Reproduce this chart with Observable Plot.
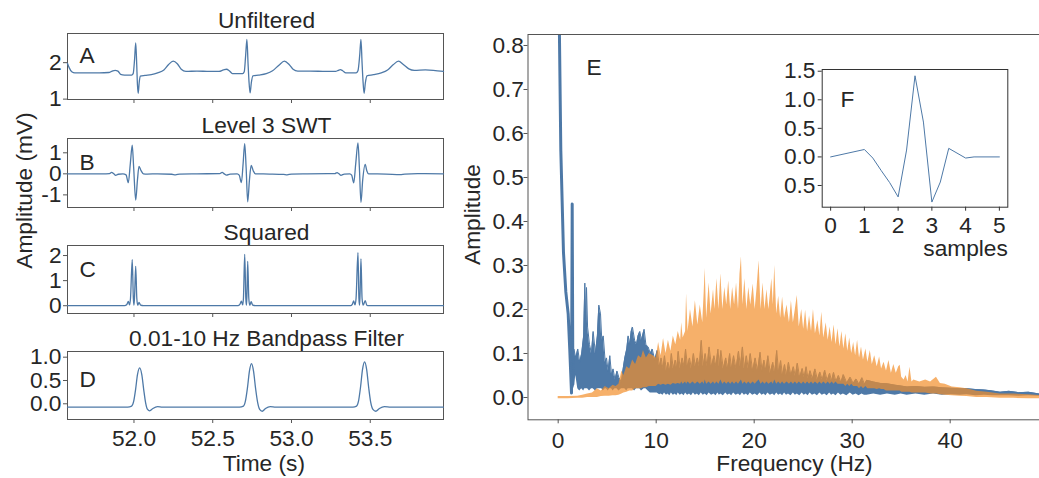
<!DOCTYPE html>
<html><head><meta charset="utf-8">
<script src="https://cdn.jsdelivr.net/npm/d3@7"></script>
<script src="https://cdn.jsdelivr.net/npm/@observablehq/plot@0.6"></script>
<style>
html,body{margin:0;padding:0;background:#fff;overflow:hidden;}
#chart{position:relative;width:1039px;height:478px;overflow:hidden;background:#fff;}
</style></head><body><div id="chart"></div>
<script>
// ---------- data ----------
const tDomain = [51.578, 53.965];
const tTicks = [52.0, 52.5, 53.0, 53.5];
const titles = ["Unfiltered", "Level 3 SWT", "Squared", "0.01-10 Hz Bandpass Filter"];
const letters = ["A", "B", "C", "D"];

const unfiltered = [[51.578,1.98],[51.590,1.85],[51.605,1.75],[51.625,1.72],[51.700,1.72],[51.780,1.72],[51.840,1.73],[51.862,1.77],[51.880,1.79],[51.898,1.77],[51.915,1.68],[51.940,1.66],[51.985,1.66],[51.995,1.70],[52.004,2.1],[52.011,2.54],[52.017,2.0],[52.022,1.4],[52.027,1.16],[52.033,1.45],[52.040,1.63],[52.070,1.65],[52.110,1.67],[52.150,1.72],[52.190,1.80],[52.220,1.95],[52.249,2.04],[52.275,1.97],[52.300,1.82],[52.330,1.76],[52.400,1.77],[52.480,1.76],[52.540,1.76],[52.568,1.80],[52.587,1.82],[52.605,1.78],[52.625,1.70],[52.690,1.70],[52.700,1.75],[52.709,2.2],[52.717,2.64],[52.724,2.0],[52.730,1.5],[52.737,1.17],[52.745,1.45],[52.755,1.64],[52.790,1.66],[52.840,1.70],[52.880,1.78],[52.920,1.93],[52.955,2.04],[52.985,1.95],[53.010,1.82],[53.040,1.77],[53.120,1.77],[53.220,1.76],[53.280,1.76],[53.297,1.79],[53.310,1.81],[53.325,1.78],[53.345,1.72],[53.410,1.72],[53.422,1.78],[53.433,2.2],[53.441,2.64],[53.448,2.0],[53.454,1.5],[53.461,1.16],[53.469,1.45],[53.479,1.64],[53.520,1.67],[53.570,1.72],[53.610,1.80],[53.645,1.94],[53.679,2.04],[53.710,1.95],[53.745,1.83],[53.780,1.79],[53.850,1.80],[53.900,1.79],[53.965,1.76]];

const swt = [[51.578,0],[51.700,0.0],[51.800,0.0],[51.845,0.01],[51.858,0.07],[51.872,0.0],[51.884,-0.07],[51.900,-0.02],[51.930,0.0],[51.950,-0.05],[51.964,-0.42],[51.977,0.5],[51.989,1.36],[51.998,0.3],[52.011,-1.25],[52.022,-0.3],[52.032,0.35],[52.045,0.15],[52.060,0.0],[52.084,-0.01],[52.150,0.0],[52.240,-0.02],[52.264,-0.05],[52.290,-0.01],[52.400,0.0],[52.545,0.01],[52.560,0.07],[52.573,0.0],[52.587,-0.06],[52.610,-0.01],[52.655,0.0],[52.668,-0.06],[52.682,-0.42],[52.693,0.5],[52.703,1.44],[52.712,0.3],[52.722,-1.33],[52.733,-0.3],[52.744,0.4],[52.757,0.15],[52.771,0.0],[52.860,-0.01],[52.950,-0.03],[52.972,-0.05],[53.000,-0.01],[53.100,0.0],[53.275,0.01],[53.289,0.06],[53.302,0.0],[53.314,-0.07],[53.335,-0.01],[53.370,0.0],[53.382,-0.06],[53.395,-0.43],[53.408,0.5],[53.422,1.47],[53.431,0.3],[53.441,-1.36],[53.452,-0.3],[53.468,0.45],[53.478,0.15],[53.490,0.0],[53.600,-0.01],[53.690,-0.04],[53.720,-0.01],[53.800,0.01],[53.965,0.0]];

const squared = [[51.578,0],[51.940,0.0],[51.955,0.05],[51.964,0.17],[51.972,0.03],[51.978,0.3],[51.989,1.84],[51.996,0.3],[52.000,0.02],[52.004,0.4],[52.011,1.57],[52.018,0.3],[52.024,0.02],[52.032,0.13],[52.042,0.02],[52.060,0],[52.660,0],[52.672,0.05],[52.682,0.18],[52.690,0.03],[52.695,0.3],[52.703,2.05],[52.710,0.3],[52.714,0.02],[52.717,0.4],[52.722,1.77],[52.729,0.3],[52.735,0.02],[52.744,0.16],[52.754,0.02],[52.771,0],[53.375,0],[53.386,0.05],[53.395,0.19],[53.403,0.03],[53.410,0.3],[53.422,2.12],[53.428,0.3],[53.432,0.02],[53.435,0.4],[53.441,1.87],[53.448,0.3],[53.455,0.02],[53.468,0.2],[53.478,0.02],[53.490,0],[53.965,0]];

const bandpass = [[51.578,-0.07],[51.960,-0.07],[51.985,-0.05],[51.998,0.05],[52.010,0.30],[52.022,0.62],[52.036,0.77],[52.050,0.62],[52.062,0.30],[52.074,0.02],[52.086,-0.12],[52.100,-0.15],[52.120,-0.10],[52.150,-0.06],[52.180,-0.07],[52.670,-0.07],[52.695,-0.05],[52.707,0.05],[52.720,0.33],[52.733,0.70],[52.746,0.86],[52.759,0.70],[52.772,0.33],[52.785,0.03],[52.798,-0.12],[52.814,-0.16],[52.835,-0.10],[52.865,-0.06],[52.900,-0.07],[53.390,-0.07],[53.413,-0.05],[53.425,0.05],[53.438,0.35],[53.451,0.74],[53.464,0.90],[53.477,0.74],[53.490,0.35],[53.503,0.03],[53.517,-0.12],[53.535,-0.16],[53.558,-0.10],[53.590,-0.06],[53.630,-0.07],[53.965,-0.07]];

// spectra: [frequency, low envelope, high envelope]
const specUnfiltered = [[0.05,1.2,1.2],[0.13,0.82,0.82],[0.27,0.56,0.56],[0.54,0.33,0.33],[0.78,0.24,0.24],[1.02,0.19,0.19],[1.18,0.11,0.11],[1.36,0.01,0.01],[1.43,0.05,0.44],[1.50,0.03,0.03],[1.6,0.02,0.11],[1.8,0.05,0.09],[2.0,0.02,0.11],[2.2,0.015,0.08],[2.4,0.02,0.10],[2.6,0.015,0.14],[2.72,0.02,0.26],[2.8,0.02,0.18],[2.89,0.02,0.25],[3.0,0.02,0.16],[3.2,0.015,0.12],[3.4,0.02,0.10],[3.57,0.02,0.15],[3.8,0.015,0.10],[4.0,0.02,0.14],[4.15,0.02,0.21],[4.32,0.02,0.19],[4.45,0.02,0.13],[4.6,0.015,0.14],[4.8,0.02,0.08],[4.93,0.02,0.09],[5.1,0.015,0.06],[5.27,0.02,0.095],[5.45,0.02,0.05],[5.6,0.015,0.065],[5.8,0.02,0.04],[6.0,0.02,0.06],[6.2,0.015,0.045],[6.46,0.02,0.035],[6.6,0.02,0.06],[6.8,0.02,0.09],[7.0,0.015,0.11],[7.14,0.02,0.14],[7.3,0.02,0.12],[7.45,0.02,0.15],[7.58,0.02,0.16],[7.8,0.015,0.13],[7.99,0.02,0.12],[8.15,0.02,0.14],[8.33,0.02,0.15],[8.5,0.015,0.13],[8.77,0.02,0.155],[8.95,0.02,0.12],[9.18,0.015,0.115],[9.4,0.01,0.10],[9.6,0.01,0.11],[9.86,0.01,0.084],[10.1,0.01,0.107],[10.35,0.006,0.07],[10.5,0.008,0.09],[10.7,0.005,0.065],[10.85,0.01,0.095],[11.05,0.005,0.06],[11.2,0.008,0.08],[11.4,0.004,0.06],[11.55,0.01,0.10],[11.75,0.005,0.065],[11.95,0.008,0.085],[12.1,0.004,0.065],[12.25,0.01,0.105],[12.45,0.005,0.065],[12.65,0.008,0.09],[12.85,0.004,0.07],[13.0,0.01,0.11],[13.2,0.005,0.07],[13.4,0.008,0.09],[13.6,0.004,0.065],[13.8,0.01,0.10],[14.0,0.005,0.07],[14.2,0.008,0.09],[14.4,0.004,0.07],[14.6,0.01,0.13],[14.8,0.005,0.07],[15.0,0.008,0.10],[15.2,0.004,0.07],[15.4,0.01,0.115],[15.65,0.005,0.07],[15.9,0.008,0.095],[16.1,0.004,0.07],[16.3,0.01,0.11],[16.45,0.005,0.07],[16.6,0.008,0.107],[16.85,0.004,0.065],[17.1,0.01,0.09],[17.3,0.005,0.065],[17.5,0.008,0.10],[17.7,0.004,0.065],[17.9,0.01,0.095],[18.15,0.005,0.065],[18.4,0.008,0.105],[18.6,0.004,0.07],[18.8,0.01,0.115],[19.0,0.005,0.065],[19.2,0.008,0.095],[19.4,0.004,0.065],[19.6,0.01,0.10],[19.85,0.005,0.06],[20.1,0.008,0.09],[20.35,0.004,0.06],[20.6,0.01,0.103],[20.8,0.005,0.06],[21.0,0.008,0.085],[21.2,0.004,0.06],[21.4,0.01,0.095],[21.65,0.005,0.055],[21.9,0.008,0.08],[22.1,0.004,0.055],[22.3,0.01,0.107],[22.5,0.005,0.055],[22.7,0.008,0.084],[22.9,0.004,0.05],[23.1,0.01,0.075],[23.3,0.005,0.05],[23.5,0.008,0.08],[23.75,0.004,0.05],[24.0,0.01,0.07],[24.2,0.005,0.048],[24.4,0.008,0.078],[24.65,0.004,0.045],[24.9,0.01,0.066],[25.1,0.005,0.045],[25.3,0.008,0.07],[25.5,0.004,0.042],[25.7,0.01,0.061],[25.95,0.005,0.042],[26.2,0.008,0.065],[26.45,0.004,0.04],[26.7,0.01,0.058],[26.95,0.005,0.04],[27.2,0.008,0.062],[27.45,0.004,0.038],[27.7,0.01,0.055],[27.9,0.005,0.037],[28.1,0.008,0.057],[28.35,0.004,0.036],[28.6,0.01,0.05],[28.85,0.005,0.034],[29.1,0.008,0.052],[29.45,0.004,0.033],[29.8,0.01,0.046],[30.1,0.005,0.032],[30.4,0.008,0.042],[30.7,0.004,0.03],[31.0,0.008,0.045],[31.25,0.005,0.03],[31.5,0.005,0.039],[32.2,0.008,0.035],[32.9,0.005,0.032],[33.6,0.008,0.031],[34.4,0.005,0.028],[35.0,0.008,0.026],[35.6,0.005,0.024],[36.5,0.008,0.025],[37.4,0.005,0.023],[38.3,0.008,0.024],[39.2,0.005,0.022],[40.1,0.006,0.021],[41.0,0.005,0.02],[41.7,0.006,0.02],[42.6,0.004,0.018],[43.5,0.005,0.017],[44.3,0.004,0.015],[45.1,0.004,0.012],[46.0,0.004,0.014],[47.0,0.003,0.011],[48.0,0.004,0.012],[49.1,0.003,0.008],[49.5,0.003,0.009]];

const specFiltered = [[0.0,-0.003,0.002],[1.0,-0.003,0.002],[2.0,-0.002,0.003],[2.5,-0.002,0.005],[3.0,0.0,0.008],[3.5,0.0,0.01],[4.0,0.0,0.02],[4.4,0.002,0.015],[4.8,0.003,0.025],[5.2,0.003,0.02],[5.6,0.004,0.028],[5.9,0.004,0.025],[6.2,0.005,0.03],[6.5,0.008,0.06],[6.7,0.01,0.05],[7.0,0.012,0.07],[7.3,0.015,0.065],[7.6,0.015,0.085],[7.9,0.02,0.075],[8.2,0.02,0.095],[8.5,0.02,0.09],[8.7,0.022,0.107],[9.0,0.022,0.09],[9.3,0.025,0.1],[9.7,0.025,0.095],[10.0,0.025,0.09],[10.25,0.03,0.125],[10.5,0.028,0.095],[10.75,0.03,0.134],[11.0,0.028,0.10],[11.25,0.03,0.13],[11.5,0.028,0.105],[11.75,0.032,0.14],[12.0,0.03,0.12],[12.25,0.032,0.15],[12.5,0.03,0.13],[12.6,0.035,0.17],[12.75,0.03,0.135],[13.0,0.035,0.15],[13.1,0.03,0.235],[13.25,0.035,0.15],[13.5,0.03,0.2],[13.75,0.035,0.16],[14.0,0.03,0.22],[14.25,0.035,0.165],[14.5,0.03,0.21],[14.75,0.035,0.17],[14.9,0.03,0.24],[15.0,0.04,0.293],[15.15,0.03,0.18],[15.4,0.035,0.26],[15.6,0.03,0.19],[15.85,0.035,0.245],[16.0,0.03,0.2],[16.2,0.035,0.27],[16.4,0.03,0.2],[16.6,0.04,0.281],[16.8,0.03,0.2],[17.0,0.035,0.25],[17.2,0.03,0.21],[17.4,0.035,0.265],[17.6,0.03,0.2],[17.8,0.035,0.25],[18.0,0.03,0.21],[18.2,0.035,0.26],[18.4,0.03,0.2],[18.55,0.035,0.28],[18.7,0.04,0.32],[18.85,0.03,0.21],[19.05,0.035,0.27],[19.25,0.03,0.2],[19.45,0.035,0.25],[19.65,0.03,0.21],[19.9,0.035,0.258],[20.1,0.03,0.2],[20.3,0.035,0.25],[20.5,0.04,0.311],[20.7,0.03,0.2],[20.9,0.035,0.26],[21.1,0.03,0.2],[21.3,0.035,0.245],[21.5,0.03,0.2],[21.8,0.035,0.27],[21.95,0.03,0.21],[22.1,0.04,0.30],[22.3,0.03,0.19],[22.5,0.035,0.23],[22.7,0.03,0.18],[22.9,0.035,0.228],[23.1,0.03,0.18],[23.35,0.035,0.21],[23.6,0.03,0.17],[23.8,0.035,0.22],[24.0,0.03,0.17],[24.2,0.035,0.2],[24.4,0.03,0.232],[24.6,0.035,0.16],[24.85,0.03,0.2],[25.05,0.035,0.155],[25.25,0.03,0.198],[25.45,0.035,0.15],[25.65,0.03,0.185],[25.85,0.035,0.15],[26.05,0.03,0.2],[26.25,0.035,0.145],[26.5,0.03,0.175],[26.7,0.035,0.14],[26.9,0.03,0.194],[27.1,0.035,0.135],[27.35,0.03,0.17],[27.55,0.035,0.13],[27.75,0.03,0.16],[27.95,0.035,0.125],[28.15,0.03,0.165],[28.35,0.035,0.12],[28.55,0.03,0.156],[28.75,0.03,0.115],[28.95,0.03,0.15],[29.15,0.03,0.11],[29.35,0.025,0.145],[29.55,0.03,0.105],[29.75,0.025,0.135],[29.95,0.03,0.1],[30.15,0.025,0.125],[30.35,0.025,0.095],[30.55,0.025,0.13],[30.75,0.02,0.09],[30.95,0.025,0.115],[31.15,0.02,0.085],[31.4,0.025,0.11],[31.6,0.02,0.08],[31.85,0.02,0.107],[32.05,0.02,0.075],[32.3,0.02,0.095],[32.55,0.018,0.07],[32.8,0.02,0.092],[33.0,0.018,0.065],[33.25,0.018,0.08],[33.5,0.015,0.06],[33.75,0.015,0.084],[34.0,0.015,0.055],[34.25,0.015,0.075],[34.5,0.015,0.055],[34.75,0.015,0.07],[34.9,0.015,0.073],[35.05,0.012,0.046],[35.3,0.012,0.04],[35.5,0.012,0.05],[35.7,0.012,0.035],[35.9,0.012,0.069],[36.1,0.01,0.035],[36.3,0.01,0.04],[36.9,0.01,0.035],[37.5,0.01,0.04],[38.0,0.008,0.035],[38.6,0.008,0.046],[39.0,0.006,0.032],[39.5,0.005,0.03],[40.2,0.004,0.024],[41.0,0.003,0.022],[41.7,0.002,0.02],[42.7,0.0,0.014],[43.8,0.0,0.012],[45.1,-0.002,0.008],[46.5,-0.002,0.008],[48.0,-0.003,0.006],[49.5,-0.003,0.004]];

const eXTicks = [0, 10, 20, 30, 40];
const eYTicks = [0, 0.1, 0.2, 0.3, 0.4, 0.5, 0.6, 0.7, 0.8];

const waveletX = [0, 1, 1.25, 1.5, 1.75, 2, 2.25, 2.5, 2.75, 3, 3.25, 3.5, 4, 4.25, 5];
const waveletY = [0, 0.13, -0.02, -0.24, -0.45, -0.70, 0.12, 1.42, 0.61, -0.79, -0.44, 0.15, -0.02, 0, 0];
const fXTicks = [0, 1, 2, 3, 4, 5];
const fYTicks = [-0.5, 0, 0.5, 1.0, 1.5];

// ---------- drawing ----------
const BLUE = "#4e79a7", ORANGE = "#f28e2b", SPINE = "#555555";
const STYLE = 'font-family:"Liberation Sans",Arial,sans-serif;font-size:22.7px;color:#262626;background:transparent;overflow:visible;';
const chart = document.getElementById("chart");
function place(svg, left, top) {
  svg.style.position = "absolute";
  svg.style.left = left + "px";
  svg.style.top = top + "px";
  svg.style.maxWidth = "none";
  chart.appendChild(svg);
}

function ecg(cfg) {
  const mt = 33;
  const extra = cfg.extra || [];
  const svg = Plot.plot({
    width: 444, height: mt + cfg.h + cfg.mb,
    marginLeft: 67, marginRight: 1, marginTop: mt, marginBottom: cfg.mb,
    style: STYLE,
    x: {domain: tDomain},
    y: {domain: cfg.yDomain},
    marks: [
      Plot.frame({stroke: SPINE}),
      Plot.axisY({ticks: cfg.yTicks, tickFormat: cfg.yFmt, tickSize: 4, tickPadding: 2, stroke: SPINE, label: null}),
      Plot.axisX({ticks: tTicks, tickFormat: cfg.showX ? (d => d.toFixed(1)) : (() => ""), tickSize: 4, tickPadding: 6, stroke: SPINE, label: null}),
      Plot.line(cfg.data, {x: d => d[0], y: d => d[1], stroke: BLUE, strokeWidth: 1.3, curve: "monotone-x"}),
      Plot.text([cfg.letter], {text: d => d, frameAnchor: "top-left", dx: 12, dy: cfg.letterDy, lineAnchor: "top", textAnchor: "start"}),
      Plot.text([cfg.title], {text: d => d, frameAnchor: "top", dx: 11, dy: -6, lineAnchor: "bottom", textAnchor: "middle"}),
      ...extra
    ]
  });
  place(svg, 0, cfg.top - mt);
}

ecg({data: unfiltered, title: titles[0], letter: letters[0], letterDy: 13.7, top: 33, h: 66, mb: 6,
     yDomain: [0.99, 2.8], yTicks: [1, 2], yFmt: d => String(d)});
ecg({data: swt, title: titles[1], letter: letters[1], letterDy: 15.3, top: 138, h: 69, mb: 6,
     yDomain: [-1.6, 1.68], yTicks: [-1, 0, 1], yFmt: d => String(d),
     extra: [Plot.text(["Amplitude (mV)"], {text: d => d, frameAnchor: "left", dx: -36, dy: 17.5, rotate: -90, lineAnchor: "bottom", textAnchor: "middle"})]});
ecg({data: squared, title: titles[2], letter: letters[2], letterDy: 15.7, top: 245, h: 68, mb: 6,
     yDomain: [-0.31, 2.4], yTicks: [0, 1, 2], yFmt: d => String(d)});
ecg({data: bandpass, title: titles[3], letter: letters[3], letterDy: 19, top: 351, h: 68, mb: 59, showX: true,
     yDomain: [-0.337, 1.122], yTicks: [0, 0.5, 1.0], yFmt: d => d.toFixed(1),
     extra: [Plot.text(["Time (s)"], {text: d => d, frameAnchor: "bottom", dx: 8.3, dy: 51.7, lineAnchor: "bottom", textAnchor: "middle"})]});

// Panel E
const x0 = d => d[0], lo = d => d[1], hi = d => d[2];
const E = Plot.plot({
  width: 582, height: 478,
  marginLeft: 67.5, marginRight: 0, marginTop: 34, marginBottom: 58.7,
  style: STYLE,
  x: {domain: [-3.08, 49.42]},
  y: {domain: [-0.0507, 0.825]},
  marks: [
    Plot.areaY(specUnfiltered, {x: x0, y1: lo, y2: hi, fill: BLUE, clip: true}),
    Plot.lineY(specUnfiltered, {x: x0, y: hi, stroke: BLUE, strokeWidth: 3, clip: true, filter: d => d[0] < 1.6}),
    Plot.lineY(specUnfiltered, {x: x0, y: hi, stroke: BLUE, strokeWidth: 1, clip: true}),
    Plot.areaY(specFiltered, {x: x0, y1: lo, y2: hi, fill: ORANGE, fillOpacity: 0.7, clip: true}),
    Plot.frame({stroke: SPINE}),
    Plot.axisY({ticks: eYTicks, tickFormat: d => d.toFixed(1), tickSize: 4, tickPadding: 0, stroke: SPINE, label: null}),
    Plot.axisX({ticks: eXTicks, tickFormat: d => String(d), tickSize: 4, tickPadding: 8.4, stroke: SPINE, label: null}),
    Plot.text(["E"], {text: d => d, frameAnchor: "top-left", dx: 58.5, dy: 24, lineAnchor: "top", textAnchor: "start"}),
    Plot.text(["Frequency (Hz)"], {text: d => d, frameAnchor: "bottom-left", dx: 266.5, dy: 51.4, lineAnchor: "bottom", textAnchor: "middle"}),
    Plot.text(["Amplitude"], {text: d => d, frameAnchor: "left", dx: -48.5, dy: -12.6, rotate: -90, lineAnchor: "bottom", textAnchor: "middle"})
  ]
});
place(E, 460, 0);

// Inset F
const wavelet = waveletX.map((x, i) => ({x, y: waveletY[i]}));
const F = Plot.plot({
  width: 250, height: 212,
  marginLeft: 61.7, marginRight: 2.7, marginTop: 19, marginBottom: 55.3,
  style: STYLE,
  x: {domain: [-0.25, 5.25]},
  y: {domain: [-0.88, 1.53]},
  marks: [
    Plot.frame({fill: "white", stroke: "#333"}),
    Plot.line(wavelet, {x: "x", y: "y", stroke: BLUE, strokeWidth: 1}),
    Plot.axisY({ticks: fYTicks, tickFormat: d => Math.abs(d).toFixed(1), tickSize: 4, tickPadding: 2.7, stroke: "#333", label: null}),
    Plot.axisX({ticks: fXTicks, tickFormat: d => String(d), tickSize: 4, tickPadding: 5.5, stroke: "#333", label: null}),
    Plot.text(["F"], {text: d => d, frameAnchor: "top-left", dx: 18.3, dy: 21, lineAnchor: "top", textAnchor: "start"}),
    Plot.text(["samples"], {text: d => d, frameAnchor: "bottom-right", dy: 48.5, lineAnchor: "bottom", textAnchor: "end"})
  ]
});
place(F, 760, 50);
</script></body></html>
